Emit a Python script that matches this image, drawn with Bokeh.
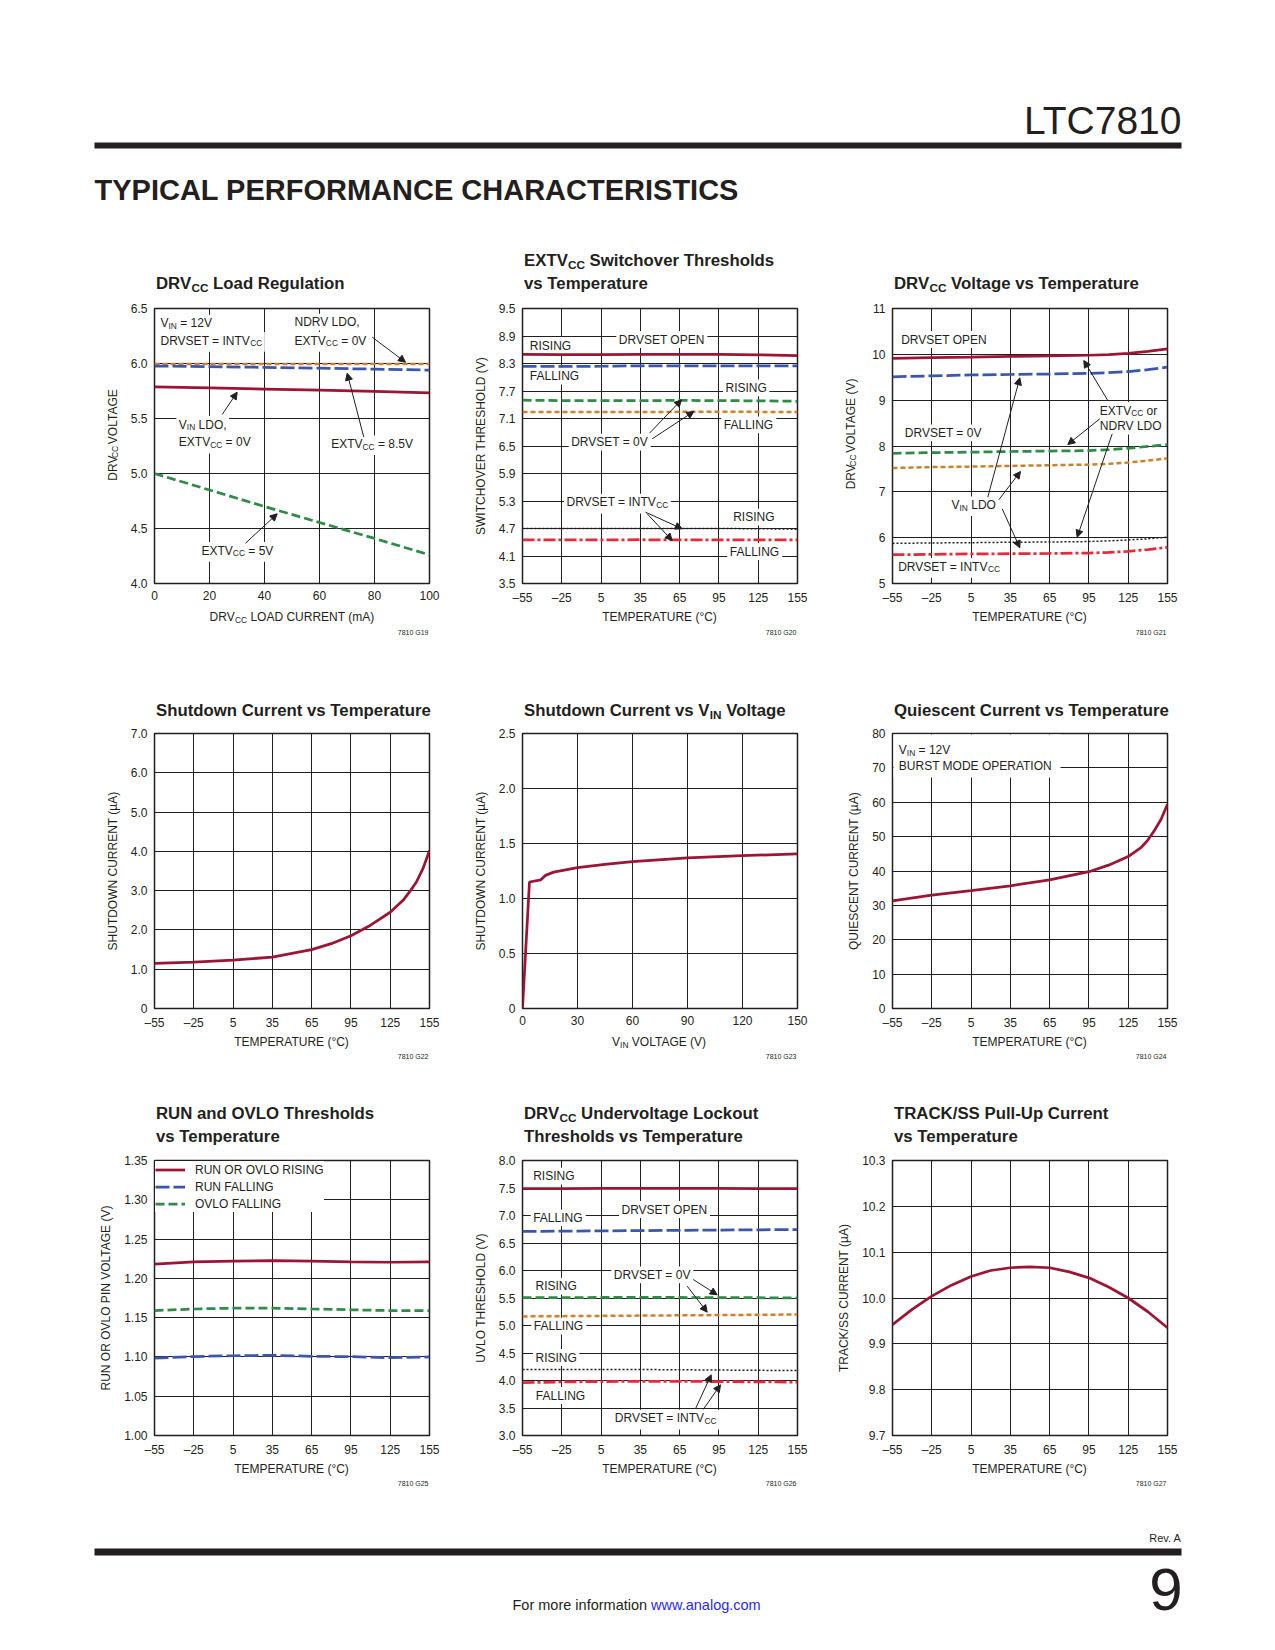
import math
from bokeh.plotting import figure
from bokeh.layouts import column, row
from bokeh.models import (Range1d, FixedTicker, Label, Arrow, NormalHead,
                          BoxAnnotation, Legend, LegendItem)
from bokeh.embed import file_html
from bokeh.resources import INLINE

# ----------------------------------------------------------------- data
TEMP = [-55, -25, 5, 35, 65, 95, 125, 155]
TEMP_TICKS = [-55, -25, 5, 35, 65, 95, 125, 155]
TEMP_TICK_LABELS = ["–55", "–25", "5", "35", "65", "95", "125", "155"]

# G19  DRVcc load regulation
G19_LOAD = [0, 20, 40, 60, 80, 100]
G19_NDRV_LDO = [5.995, 5.995, 5.995, 5.995, 5.995, 5.995]
G19_EXTVCC_8V5 = [5.977, 5.972, 5.965, 5.957, 5.949, 5.940]
G19_VIN_LDO = [5.788, 5.778, 5.768, 5.758, 5.746, 5.732]
G19_EXTVCC_5V = [5.00, 4.85, 4.70, 4.555, 4.41, 4.26]
G19_XTICKS = [0, 20, 40, 60, 80, 100]
G19_XLABELS = ["0", "20", "40", "60", "80", "100"]
G19_YTICKS = [4.0, 4.5, 5.0, 5.5, 6.0, 6.5]
G19_YLABELS = ["4.0", "4.5", "5.0", "5.5", "6.0", "6.5"]

# G20  EXTVcc switchover thresholds
G20_OPEN_RISING = [8.50, 8.495, 8.495, 8.50, 8.50, 8.50, 8.49, 8.47]
G20_OPEN_FALLING = [8.235, 8.235, 8.24, 8.25, 8.25, 8.25, 8.25, 8.25]
G20_0V_RISING = [7.50, 7.49, 7.49, 7.49, 7.495, 7.49, 7.485, 7.475]
G20_0V_FALLING = [7.24, 7.24, 7.24, 7.24, 7.245, 7.25, 7.245, 7.24]
G20_INTV_RISING = [4.70, 4.70, 4.70, 4.70, 4.70, 4.70, 4.695, 4.685]
G20_INTV_FALLING = [4.45, 4.45, 4.45, 4.455, 4.45, 4.45, 4.45, 4.45]
G20_YTICKS = [3.5, 4.1, 4.7, 5.3, 5.9, 6.5, 7.1, 7.7, 8.3, 8.9, 9.5]
G20_YLABELS = ["3.5", "4.1", "4.7", "5.3", "5.9", "6.5", "7.1", "7.7", "8.3", "8.9", "9.5"]

# G21  DRVcc voltage vs temperature
G21_TEMP = [-55, -25, 5, 35, 65, 95, 110, 125, 140, 155]
G21_OPEN_EXT = [9.91, 9.93, 9.94, 9.955, 9.965, 9.98, 9.995, 10.02, 10.065, 10.12]
G21_OPEN_VIN = [9.51, 9.53, 9.55, 9.56, 9.57, 9.585, 9.60, 9.625, 9.665, 9.72]
G21_0V_EXT = [7.84, 7.855, 7.865, 7.88, 7.89, 7.90, 7.92, 7.95, 7.99, 8.03]
G21_0V_VIN = [7.52, 7.54, 7.55, 7.565, 7.58, 7.595, 7.61, 7.64, 7.68, 7.73]
G21_INT_EXT = [5.875, 5.885, 5.89, 5.90, 5.905, 5.915, 5.93, 5.95, 5.975, 6.01]
G21_INT_VIN = [5.63, 5.635, 5.645, 5.65, 5.655, 5.665, 5.68, 5.70, 5.74, 5.79]
G21_YTICKS = [5, 6, 7, 8, 9, 10, 11]
G21_YLABELS = ["5", "6", "7", "8", "9", "10", "11"]

# G22  shutdown current vs temperature
G22_TEMP = [-55, -25, 5, 35, 65, 80, 95, 110, 125, 135, 140, 145, 150, 155]
G22_ISD = [1.15, 1.18, 1.23, 1.31, 1.50, 1.65, 1.85, 2.12, 2.45, 2.76, 2.98, 3.22, 3.56, 4.02]
G22_YTICKS = [0, 1, 2, 3, 4, 5, 6, 7]
G22_YLABELS = ["0", "1.0", "2.0", "3.0", "4.0", "5.0", "6.0", "7.0"]

# G23  shutdown current vs VIN
G23_VIN = [0, 3.8, 10, 12.5, 17, 30, 45, 60, 90, 120, 150]
G23_ISD = [0, 1.15, 1.17, 1.21, 1.24, 1.28, 1.31, 1.335, 1.37, 1.39, 1.405]
G23_XTICKS = [0, 30, 60, 90, 120, 150]
G23_XLABELS = ["0", "30", "60", "90", "120", "150"]
G23_YTICKS = [0, 0.5, 1.0, 1.5, 2.0, 2.5]
G23_YLABELS = ["0", "0.5", "1.0", "1.5", "2.0", "2.5"]

# G24  quiescent current vs temperature
G24_TEMP = [-55, -25, 5, 35, 65, 95, 110, 125, 135, 140, 145, 150, 155]
G24_IQ = [31.3, 33.0, 34.3, 35.7, 37.4, 39.8, 41.7, 44.2, 46.9, 49.0, 51.8, 55.0, 59.4]
G24_YTICKS = [0, 10, 20, 30, 40, 50, 60, 70, 80]
G24_YLABELS = ["0", "10", "20", "30", "40", "50", "60", "70", "80"]

# G25  RUN and OVLO thresholds
G25_RISING = [1.218, 1.221, 1.222, 1.2225, 1.222, 1.221, 1.2205, 1.221]
G25_RUN_FALLING = [1.0985, 1.1005, 1.1015, 1.102, 1.1008, 1.1003, 1.099, 1.100]
G25_OVLO_FALLING = [1.159, 1.161, 1.162, 1.162, 1.161, 1.160, 1.159, 1.159]
G25_YTICKS = [1.00, 1.05, 1.10, 1.15, 1.20, 1.25, 1.30, 1.35]
G25_YLABELS = ["1.00", "1.05", "1.10", "1.15", "1.20", "1.25", "1.30", "1.35"]

# G26  DRVcc UVLO thresholds
G26_OPEN_RISING = [7.49, 7.49, 7.495, 7.495, 7.495, 7.495, 7.49, 7.49]
G26_OPEN_FALLING = [6.71, 6.715, 6.72, 6.725, 6.73, 6.735, 6.74, 6.745]
G26_0V_RISING = [5.505, 5.505, 5.51, 5.51, 5.51, 5.505, 5.505, 5.50]
G26_0V_FALLING = [5.165, 5.17, 5.175, 5.18, 5.185, 5.19, 5.195, 5.20]
G26_INT_RISING = [4.20, 4.20, 4.20, 4.20, 4.195, 4.19, 4.185, 4.18]
G26_INT_FALLING = [3.96, 3.975, 3.98, 3.985, 3.985, 3.98, 3.975, 3.97]
G26_YTICKS = [3.0, 3.5, 4.0, 4.5, 5.0, 5.5, 6.0, 6.5, 7.0, 7.5, 8.0]
G26_YLABELS = ["3.0", "3.5", "4.0", "4.5", "5.0", "5.5", "6.0", "6.5", "7.0", "7.5", "8.0"]

# G27  TRACK/SS pull-up current
G27_TEMP = [-55, -40, -25, -10, 5, 20, 35, 50, 65, 80, 95, 110, 125, 140, 155]
G27_ISS = [9.942, 9.975, 10.004, 10.028, 10.047, 10.060, 10.066, 10.068, 10.066,
           10.057, 10.044, 10.024, 10.000, 9.970, 9.935]
G27_YTICKS = [9.7, 9.8, 9.9, 10.0, 10.1, 10.2, 10.3]
G27_YLABELS = ["9.7", "9.8", "9.9", "10.0", "10.1", "10.2", "10.3"]

# ----------------------------------------------------------------- style
FONT = "Liberation Sans"
INK = "#231f20"
RED = "#9d1535"
BLUE = "#3b56ad"
GREEN = "#2f8b45"
ORANGE = "#cf7d2e"
BRIGHT = "#e52a3a"
TICK_FS = 12
AX_FS = 12
ANN_FS = 12
TITLE_FS = 16.8
SUB = 0.7
SUBSHIFT = 0.24

STY = {
    "solid": dict(line_color=RED, line_width=2.75),
    "long": dict(line_color=BLUE, line_width=2.75, line_dash="14 4"),
    "dash": dict(line_color=GREEN, line_width=2.75, line_dash="9 4"),
    "short": dict(line_color=ORANGE, line_width=2.5, line_dash="5 3"),
    "dot": dict(line_color=INK, line_width=1.5, line_dash="2 2"),
    "dashdot": dict(line_color=BRIGHT, line_width=2.75, line_dash="12 3 3 3"),
}

# page geometry: pixel positions of the plot frames on the page
PAGE_W = 1267
FW = FH = 275
FL = [154, 522, 892]
FT = [308, 733, 1160]
GY = [632, 1056, 1483]
XLY = [616.5, 1041.5, 1468.5]

_REG = dict(zip("ABCDEFGHIJKLMNOPQRSTUVWXYZ",
                [667, 667, 722, 722, 667, 611, 778, 722, 278, 500, 667, 556, 833,
                 722, 778, 667, 778, 722, 667, 611, 722, 667, 944, 667, 667, 611]))
_REG.update(zip("abcdefghijklmnopqrstuvwxyz",
                [556, 556, 500, 556, 556, 278, 556, 556, 222, 222, 500, 222, 833,
                 556, 556, 556, 556, 333, 500, 278, 556, 500, 722, 500, 500, 500]))
_REG.update({c: 556 for c in "0123456789"})
_REG.update({" ": 278, "(": 333, ")": 333, ",": 278, "-": 333, ".": 278, "/": 278,
             "=": 584, "°": 400, "µ": 556, "–": 556, ":": 278})
_BOLD = dict(_REG)
_BOLD.update(zip("ABCDEFGHIJKLMNOPQRSTUVWXYZ",
                 [722, 722, 722, 722, 667, 611, 778, 722, 278, 556, 722, 611, 833,
                  722, 778, 667, 778, 722, 667, 611, 722, 667, 944, 667, 667, 611]))
_BOLD.update(zip("abcdefghijklmnopqrstuvwxyz",
                 [556, 611, 556, 611, 556, 333, 611, 611, 278, 278, 556, 278, 889,
                  611, 611, 611, 611, 389, 556, 333, 611, 556, 778, 556, 556, 500]))


def tw(s, size, bold=False):
    tab = _BOLD if bold else _REG
    return sum(tab.get(c, 556) for c in s) * size / 1000.0


class Frame:
    """page-pixel -> data converter for one chart frame"""
    def __init__(self, col, rowi, xr, yr):
        self.fl, self.ft = FL[col], FT[rowi]
        self.xr, self.yr = xr, yr

    def x(self, X):
        return self.xr[0] + (X - self.fl) / FW * (self.xr[1] - self.xr[0])

    def y(self, Y):
        return self.yr[1] - (Y - self.ft) / FH * (self.yr[1] - self.yr[0])


class PageFrame:
    def x(self, X):
        return X

    def y(self, Y):
        return Y


PF = PageFrame()


def put(p, fr, X, Y, text, size, bold=False, color=INK, align="left", angle=0.0):
    p.add_layout(Label(x=fr.x(X), y=fr.y(Y), text=text, text_font=FONT,
                       text_font_size=f"{size:.1f}px",
                       text_font_style="bold" if bold else "normal",
                       text_color=color, text_align=align, text_baseline="middle",
                       angle=angle))


def rich(p, fr, X, Y, parts, size=ANN_FS, bold=False, bg=False, center=False,
         vertical=False, color=INK):
    sizes = [size * SUB if s else size for _, s in parts]
    widths = [tw(t, sz, bold) for (t, _), sz in zip(parts, sizes)]
    total = sum(widths)
    if vertical:
        start = Y + total / 2 if center else Y
    else:
        start = X - total / 2 if center else X
    if bg and not vertical:
        has_sub = any(s for _, s in parts)
        p.add_layout(BoxAnnotation(
            left=fr.x(start - 2.5), right=fr.x(start + total + 2.5),
            top=fr.y(Y - 0.7 * size),
            bottom=fr.y(Y + 0.7 * size + (SUBSHIFT * size if has_sub else 0)),
            fill_color="white", fill_alpha=1.0, line_color=None, level="underlay"))
    cur = start
    for (t, s), sz, w in zip(parts, sizes, widths):
        lead = len(t) - len(t.lstrip(" "))
        core = t.strip(" ")
        off = tw(" ", sz, bold) * lead
        shift = SUBSHIFT * size if s else 0.0
        if vertical:
            put(p, fr, X + shift, cur - off, core, sz, bold, color, angle=math.pi / 2)
            cur -= w
        else:
            put(p, fr, cur + off, Y + shift, core, sz, bold, color)
            cur += w


def lab(p, fr, X, Y, text, bg=True):
    rich(p, fr, X, Y, [(text, 0)], bg=bg)


def arrow(p, fr, X0, Y0, X1, Y1):
    p.add_layout(Arrow(end=NormalHead(size=7, fill_color=INK, line_color=INK, line_width=1),
                       x_start=fr.x(X0), y_start=fr.y(Y0), x_end=fr.x(X1), y_end=fr.y(Y1),
                       line_color=INK, line_width=1))


def strip(w, h, x0, y0):
    """a plain figure whose data space is the page pixel space"""
    p = figure(width=w, height=h, x_range=Range1d(x0, x0 + w), y_range=Range1d(y0 + h, y0),
               toolbar_location=None, output_backend="svg",
               x_axis_location=None, y_axis_location=None, min_border=0)
    p.outline_line_color = None
    p.grid.visible = False
    p.background_fill_color = "white"
    p.border_fill_color = "white"
    return p


def chart(col, rowi, ml, mr, xr, yr, xt, xl, yt, yl, ylabel=None):
    p = figure(width=ml + FW + mr, height=6 + FH + 26, x_range=Range1d(*xr), y_range=Range1d(*yr),
               toolbar_location=None, output_backend="svg",
               min_border_left=ml, min_border_right=mr, min_border_top=6, min_border_bottom=26)
    p.outline_line_color = INK
    p.outline_line_width = 1.5
    p.background_fill_color = "white"
    p.border_fill_color = "white"
    xtk = FixedTicker(ticks=xt)
    ytk = FixedTicker(ticks=yt)
    p.xaxis.ticker = xtk
    p.yaxis.ticker = ytk
    p.xgrid.ticker = xtk
    p.ygrid.ticker = ytk
    p.xaxis.major_label_overrides = dict(zip(xt, xl))
    p.yaxis.major_label_overrides = dict(zip(yt, yl))
    for ax in (p.xaxis, p.yaxis):
        ax.axis_line_color = None
        ax.major_tick_line_color = None
        ax.minor_tick_line_color = None
        ax.major_tick_out = 0
        ax.major_tick_in = 0
        ax.major_label_text_font = FONT
        ax.major_label_text_font_size = f"{TICK_FS}px"
        ax.major_label_text_color = INK
        ax.axis_label_text_font = FONT
        ax.axis_label_text_font_size = f"{AX_FS}px"
        ax.axis_label_text_font_style = "normal"
        ax.axis_label_text_color = INK
    p.xaxis.major_label_standoff = 7
    p.yaxis.major_label_standoff = 7
    p.yaxis.axis_label_standoff = 8
    p.grid.grid_line_color = INK
    p.grid.grid_line_alpha = 1.0
    p.grid.grid_line_width = 1
    if ylabel:
        p.yaxis.axis_label = ylabel
    return p, Frame(col, rowi, xr, yr)


# strips that carry all text lying outside the plot frames (page pixel space)
S0 = strip(PAGE_W, 302, 0, 0)        # page header + row-1 titles
L1 = strip(124, 307, 0, 302)         # y label of G19
L3 = strip(32, 307, 830, 302)        # y label of G21
S1 = strip(PAGE_W, 118, 0, 609)      # row-1 x labels + row-2 titles
S2 = strip(PAGE_W, 120, 0, 1034)     # row-2 x labels + row-3 titles
S3 = strip(PAGE_W, 181, 0, 1461)     # row-3 x labels + page footer
XSTRIP = [S1, S2, S3]
TSTRIP = [S0, S1, S2]


def title(col, Y, parts, rowi):
    rich(TSTRIP[rowi], PF, FL[col] + 1.5, Y, parts, size=TITLE_FS, bold=True)


def xlabel(col, rowi, parts):
    rich(XSTRIP[rowi], PF, FL[col] + FW / 2, XLY[rowi], parts, size=AX_FS, center=True)


def gcode(col, rowi, text):
    put(XSTRIP[rowi], PF, FL[col] + FW - 1, GY[rowi], text, 7, align="right")


TEMP_X = [("TEMPERATURE (°C)", 0)]

# ----------------------------------------------------------------- G19
p1, f1 = chart(0, 0, 30, 31, (0, 100), (4.0, 6.5), G19_XTICKS, G19_XLABELS, G19_YTICKS, G19_YLABELS)
p1.line(G19_LOAD, G19_NDRV_LDO, **STY["short"])
p1.line(G19_LOAD, G19_EXTVCC_8V5, **STY["long"])
p1.line(G19_LOAD, G19_VIN_LDO, **STY["solid"])
p1.line(G19_LOAD, G19_EXTVCC_5V, **STY["dash"])
title(0, 283, [("DRV", 0), ("CC", 1), (" Load Regulation", 0)], 0)
rich(L1, PF, 112, 445.5, [("DRV", 0), ("CC", 1), (" VOLTAGE", 0)], size=AX_FS, center=True, vertical=True)
xlabel(0, 0, [("DRV", 0), ("CC", 1), (" LOAD CURRENT (mA)", 0)])
rich(p1, f1, 160, 322.7, [("V", 0), ("IN", 1), (" = 12V", 0)], bg=True)
rich(p1, f1, 160, 340, [("DRVSET = INTV", 0), ("CC", 1)], bg=True)
lab(p1, f1, 294, 321.7, "NDRV LDO,")
rich(p1, f1, 294, 340, [("EXTV", 0), ("CC", 1), (" = 0V", 0)], bg=True)
arrow(p1, f1, 371.7, 336.7, 405, 361.7)
rich(p1, f1, 178.3, 424, [("V", 0), ("IN", 1), (" LDO,", 0)], bg=True)
rich(p1, f1, 178.3, 441.7, [("EXTV", 0), ("CC", 1), (" = 0V", 0)], bg=True)
arrow(p1, f1, 221.7, 414, 236.7, 391.7)
rich(p1, f1, 330.7, 443.3, [("EXTV", 0), ("CC", 1), (" = 8.5V", 0)], bg=True)
arrow(p1, f1, 363.3, 436.7, 346.7, 372.7)
rich(p1, f1, 201, 550, [("EXTV", 0), ("CC", 1), (" = 5V", 0)], bg=True)
arrow(p1, f1, 245, 542.7, 276.7, 513.3)
gcode(0, 0, "7810 G19")

# ----------------------------------------------------------------- G20
p2, f2 = chart(1, 0, 62, 33, (-55, 155), (3.5, 9.5), TEMP_TICKS, TEMP_TICK_LABELS, G20_YTICKS, G20_YLABELS,
               ylabel="SWITCHOVER THRESHOLD (V)")
p2.line(TEMP, G20_OPEN_RISING, **STY["solid"])
p2.line(TEMP, G20_OPEN_FALLING, **STY["long"])
p2.line(TEMP, G20_0V_RISING, **STY["dash"])
p2.line(TEMP, G20_0V_FALLING, **STY["short"])
p2.line(TEMP, G20_INTV_RISING, **STY["dot"])
p2.line(TEMP, G20_INTV_FALLING, **STY["dashdot"])
title(1, 260, [("EXTV", 0), ("CC", 1), (" Switchover Thresholds", 0)], 0)
title(1, 283, [("vs Temperature", 0)], 0)
xlabel(1, 0, TEMP_X)
lab(p2, f2, 529.3, 345, "RISING")
lab(p2, f2, 618.3, 339, "DRVSET OPEN")
lab(p2, f2, 529.3, 375.7, "FALLING")
lab(p2, f2, 725, 387.3, "RISING")
lab(p2, f2, 723.3, 424.3, "FALLING")
lab(p2, f2, 570.7, 441.7, "DRVSET = 0V")
arrow(p2, f2, 649, 432.7, 681, 399.3)
arrow(p2, f2, 651.7, 438.3, 693.3, 411)
rich(p2, f2, 566, 501.7, [("DRVSET = INTV", 0), ("CC", 1)], bg=True)
arrow(p2, f2, 645, 511.7, 681.7, 528.3)
arrow(p2, f2, 646.7, 513.3, 671.7, 540)
lab(p2, f2, 732.7, 516.7, "RISING")
lab(p2, f2, 729.3, 551, "FALLING")
gcode(1, 0, "7810 G20")

# ----------------------------------------------------------------- G21
p3, f3 = chart(2, 0, 30, 100, (-55, 155), (5, 11), TEMP_TICKS, TEMP_TICK_LABELS, G21_YTICKS, G21_YLABELS)
p3.line(G21_TEMP, G21_OPEN_EXT, **STY["solid"])
p3.line(G21_TEMP, G21_OPEN_VIN, **STY["long"])
p3.line(G21_TEMP, G21_0V_EXT, **STY["dash"])
p3.line(G21_TEMP, G21_0V_VIN, **STY["short"])
p3.line(G21_TEMP, G21_INT_EXT, **STY["dot"])
p3.line(G21_TEMP, G21_INT_VIN, **STY["dashdot"])
title(2, 283, [("DRV", 0), ("CC", 1), (" Voltage vs Temperature", 0)], 0)
rich(L3, PF, 850, 445.5, [("DRV", 0), ("CC", 1), (" VOLTAGE (V)", 0)], size=AX_FS, center=True, vertical=True)
xlabel(2, 0, TEMP_X)
lab(p3, f3, 900.7, 339, "DRVSET OPEN")
rich(p3, f3, 1099.3, 410, [("EXTV", 0), ("CC", 1), (" or", 0)], bg=True)
lab(p3, f3, 1099.3, 425.7, "NDRV LDO")
lab(p3, f3, 904.3, 432.3, "DRVSET = 0V")
rich(p3, f3, 951, 504.3, [("V", 0), ("IN", 1), (" LDO", 0)], bg=True)
arrow(p3, f3, 1107.3, 400, 1083.3, 360)
arrow(p3, f3, 1099.3, 418.3, 1067.3, 444)
arrow(p3, f3, 1111.7, 433.3, 1076.7, 536.7)
arrow(p3, f3, 987.3, 496.7, 1019.3, 377.3)
arrow(p3, f3, 998.3, 499.3, 1020, 471)
arrow(p3, f3, 1001.7, 508.3, 1019.3, 547.3)
rich(p3, f3, 897.7, 566, [("DRVSET = INTV", 0), ("CC", 1)], bg=True)
gcode(2, 0, "7810 G21")

# ----------------------------------------------------------------- G22
p4, f4 = chart(0, 1, 154, 31, (-55, 155), (0, 7), TEMP_TICKS, TEMP_TICK_LABELS, G22_YTICKS, G22_YLABELS,
               ylabel="SHUTDOWN CURRENT (µA)")
p4.line(G22_TEMP, G22_ISD, **STY["solid"])
title(0, 710, [("Shutdown Current vs Temperature", 0)], 1)
xlabel(0, 1, TEMP_X)
gcode(0, 1, "7810 G22")

# ----------------------------------------------------------------- G23
p5, f5 = chart(1, 1, 62, 33, (0, 150), (0, 2.5), G23_XTICKS, G23_XLABELS, G23_YTICKS, G23_YLABELS,
               ylabel="SHUTDOWN CURRENT (µA)")
p5.line(G23_VIN, G23_ISD, **STY["solid"])
title(1, 710, [("Shutdown Current vs V", 0), ("IN", 1), (" Voltage", 0)], 1)
xlabel(1, 1, [("V", 0), ("IN", 1), (" VOLTAGE (V)", 0)])
gcode(1, 1, "7810 G23")

# ----------------------------------------------------------------- G24
p6, f6 = chart(2, 1, 62, 100, (-55, 155), (0, 80), TEMP_TICKS, TEMP_TICK_LABELS, G24_YTICKS, G24_YLABELS,
               ylabel="QUIESCENT CURRENT (µA)")
p6.line(G24_TEMP, G24_IQ, **STY["solid"])
title(2, 710, [("Quiescent Current vs Temperature", 0)], 1)
xlabel(2, 1, TEMP_X)
p6.add_layout(BoxAnnotation(left=f6.x(893), right=f6.x(1060), top=f6.y(734), bottom=f6.y(777),
                            fill_color="white", fill_alpha=1.0, line_color=None, level="underlay"))
rich(p6, f6, 898.3, 749.3, [("V", 0), ("IN", 1), (" = 12V", 0)])
lab(p6, f6, 898.3, 765, "BURST MODE OPERATION", bg=False)
gcode(2, 1, "7810 G24")

# ----------------------------------------------------------------- G25
p7, f7 = chart(0, 2, 154, 31, (-55, 155), (1.00, 1.35), TEMP_TICKS, TEMP_TICK_LABELS, G25_YTICKS, G25_YLABELS,
               ylabel="RUN OR OVLO PIN VOLTAGE (V)")
r71 = p7.line(TEMP, G25_RISING, **STY["solid"])
r72 = p7.line(TEMP, G25_RUN_FALLING, **STY["long"])
r73 = p7.line(TEMP, G25_OVLO_FALLING, **STY["dash"])
leg = Legend(items=[LegendItem(label="RUN OR OVLO RISING", renderers=[r71]),
                    LegendItem(label="RUN FALLING", renderers=[r72]),
                    LegendItem(label="OVLO FALLING", renderers=[r73])],
             location="top_left", margin=1, padding=6, spacing=0,
             glyph_width=30, glyph_height=17, label_height=17, label_standoff=10,
             label_text_font=FONT, label_text_font_size=f"{ANN_FS}px", label_text_color=INK,
             background_fill_color="white", background_fill_alpha=1.0, border_line_color=None)
p7.add_layout(leg)
title(0, 1113, [("RUN and OVLO Thresholds", 0)], 2)
title(0, 1136, [("vs Temperature", 0)], 2)
xlabel(0, 2, TEMP_X)
gcode(0, 2, "7810 G25")

# ----------------------------------------------------------------- G26
p8, f8 = chart(1, 2, 62, 33, (-55, 155), (3.0, 8.0), TEMP_TICKS, TEMP_TICK_LABELS, G26_YTICKS, G26_YLABELS,
               ylabel="UVLO THRESHOLD (V)")
p8.line(TEMP, G26_OPEN_RISING, **STY["solid"])
p8.line(TEMP, G26_OPEN_FALLING, **STY["long"])
p8.line(TEMP, G26_0V_RISING, **STY["dash"])
p8.line(TEMP, G26_0V_FALLING, **STY["short"])
p8.line(TEMP, G26_INT_RISING, **STY["dot"])
p8.line(TEMP, G26_INT_FALLING, **STY["dashdot"])
title(1, 1113, [("DRV", 0), ("CC", 1), (" Undervoltage Lockout", 0)], 2)
title(1, 1136, [("Thresholds vs Temperature", 0)], 2)
xlabel(1, 2, TEMP_X)
lab(p8, f8, 532.7, 1175.7, "RISING")
lab(p8, f8, 532.7, 1217.3, "FALLING")
lab(p8, f8, 621, 1209, "DRVSET OPEN")
lab(p8, f8, 535, 1285.7, "RISING")
lab(p8, f8, 613.3, 1274.3, "DRVSET = 0V")
arrow(p8, f8, 692.7, 1279, 716.7, 1294.3)
arrow(p8, f8, 686.7, 1285.7, 706.7, 1311.7)
lab(p8, f8, 533.3, 1325.7, "FALLING")
lab(p8, f8, 535, 1357, "RISING")
lab(p8, f8, 535.3, 1395, "FALLING")
rich(p8, f8, 614.3, 1417.7, [("DRVSET = INTV", 0), ("CC", 1)], bg=True)
arrow(p8, f8, 695, 1408.3, 710.7, 1374.3)
arrow(p8, f8, 702.7, 1409, 720, 1384.3)
gcode(1, 2, "7810 G26")

# ----------------------------------------------------------------- G27
p9, f9 = chart(2, 2, 62, 100, (-55, 155), (9.7, 10.3), TEMP_TICKS, TEMP_TICK_LABELS, G27_YTICKS, G27_YLABELS,
               ylabel="TRACK/SS CURRENT (µA)")
p9.line(G27_TEMP, G27_ISS, **STY["solid"])
title(2, 1113, [("TRACK/SS Pull-Up Current", 0)], 2)
title(2, 1136, [("vs Temperature", 0)], 2)
xlabel(2, 2, TEMP_X)
gcode(2, 2, "7810 G27")

# ----------------------------------------------------------------- page header / footer
put(S0, PF, 1181, 120, "LTC7810", 39, align="right")
S0.add_layout(BoxAnnotation(left=94, right=1181, top=142, bottom=148,
                            fill_color=INK, fill_alpha=1.0, line_color=None))
put(S0, PF, 94, 189, "TYPICAL PERFORMANCE CHARACTERISTICS", 29, bold=True)

put(S3, PF, 1181, 1537, "Rev. A", 11, align="right")
S3.add_layout(BoxAnnotation(left=94, right=1181, top=1548, bottom=1555,
                            fill_color=INK, fill_alpha=1.0, line_color=None))
put(S3, PF, 1182, 1589, "9", 60, align="right")
FOOT = "For more information"
put(S3, PF, 512, 1604, FOOT, 14.5)
put(S3, PF, 512 + tw(FOOT + " ", 14.5), 1604, "www.analog.com", 14.5, color="#2a2ae6")

layout = column(S0,
                row(L1, p1, p2, L3, p3, spacing=0),
                S1,
                row(p4, p5, p6, spacing=0),
                S2,
                row(p7, p8, p9, spacing=0),
                S3, spacing=0)

open("out.html", "w").write(file_html(layout, INLINE, title="LTC7810 Typical Performance Characteristics"))
